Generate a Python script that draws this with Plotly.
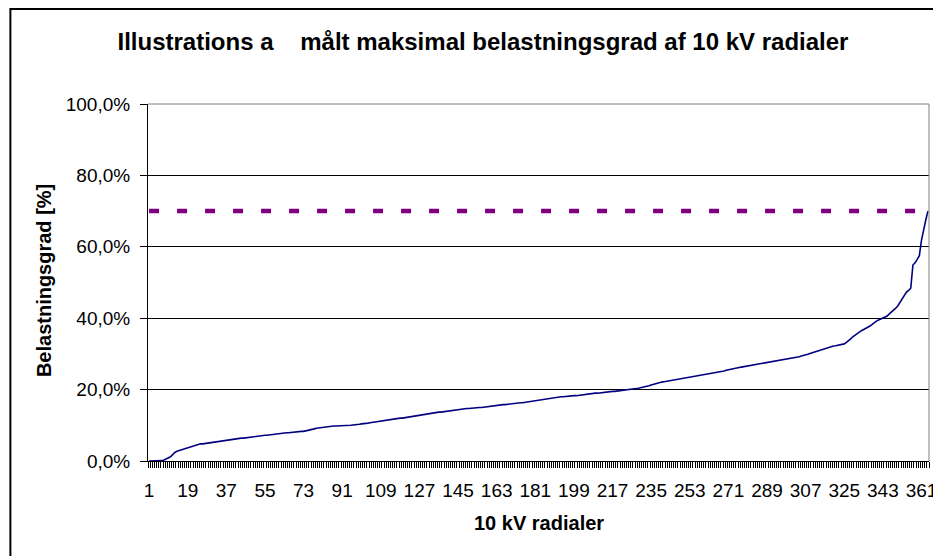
import plotly.graph_objects as go

# sorted maximum load per 10 kV radial, in percent
load_pct = [
    0.0, 0.0, 0.0, 0.0, 0.0, 0.0, 0.1,
    0.3, 0.6, 0.9, 1.2, 1.8, 2.4,
    2.7, 2.9, 3.1, 3.3, 3.5, 3.6,
    3.8, 4.0, 4.2, 4.5, 4.7,
    4.8, 4.8, 4.9, 4.9, 5.0, 5.1, 5.2, 5.3,
    5.3, 5.4, 5.5, 5.6, 5.8, 5.9, 6.0, 6.1, 6.2,
    6.3, 6.3, 6.4, 6.4, 6.5, 6.6, 6.6, 6.7,
    6.8, 6.9, 7.0, 7.0, 7.1, 7.2,
    7.2, 7.3, 7.4, 7.5, 7.5, 7.6, 7.7, 7.8,
    7.8, 7.9, 7.9, 8.0, 8.1,
    8.1, 8.2, 8.2, 8.3, 8.3, 8.4,
    8.5, 8.7, 8.8, 9.0, 9.2,
    9.3, 9.4, 9.5, 9.6, 9.7, 9.7, 9.8, 9.8,
    9.8, 9.8, 9.8, 9.9, 9.9, 9.9, 10.0, 10.0,
    10.1, 10.1, 10.2, 10.3, 10.4, 10.4, 10.5, 10.6,
    10.7, 10.8, 10.9, 11.0, 11.1, 11.2, 11.4, 11.5,
    11.6, 11.6, 11.7, 11.8, 11.8, 11.9, 12.0, 12.0, 12.1, 12.2, 12.3,
    12.4, 12.5, 12.6, 12.7, 12.8, 12.9, 13.0, 13.2, 13.4,
    13.4, 13.5, 13.5, 13.6, 13.7, 13.7, 13.8, 13.9, 14.0,
    14.1, 14.2, 14.3, 14.4, 14.5, 14.6,
    14.6, 14.7, 14.7, 14.7, 14.8, 14.8, 14.9, 14.9, 15.0, 15.0, 15.1, 15.1,
    15.2, 15.3, 15.4, 15.5, 15.5, 15.6, 15.7, 15.8, 15.8, 15.9,
    16.0, 16.0, 16.1, 16.1, 16.2, 16.3, 16.3, 16.4, 16.5,
    16.6, 16.7, 16.8, 16.8, 16.9, 17.0, 17.1, 17.2, 17.3, 17.4, 17.5, 17.6, 17.8, 17.9,
    17.9, 18.0, 18.0, 18.1, 18.1, 18.2, 18.2, 18.3,
    18.3, 18.4, 18.5, 18.5, 18.6, 18.7, 18.8, 18.8, 18.9, 19.0,
    19.0, 19.1, 19.1, 19.2, 19.3, 19.3, 19.4, 19.5, 19.5, 19.6, 19.7, 19.7, 19.8, 19.9,
    20.0, 20.0, 20.1, 20.2, 20.3, 20.4, 20.5, 20.6, 20.7,
    20.9, 21.1, 21.3, 21.5, 21.7, 21.8, 22.0, 22.1,
    22.2, 22.3, 22.4, 22.5, 22.6, 22.7, 22.9, 23.0,
    23.1, 23.2, 23.3, 23.4, 23.5, 23.6, 23.7, 23.8,
    23.9, 23.9, 24.0, 24.1, 24.2, 24.3, 24.4, 24.5, 24.6,
    24.8, 24.9, 25.1, 25.2, 25.4, 25.5, 25.7, 25.8, 26.0,
    26.1, 26.2, 26.3, 26.4, 26.5, 26.6, 26.7, 26.9, 27.0,
    27.1, 27.2, 27.3, 27.4, 27.5, 27.6, 27.7, 27.8, 27.9, 28.0, 28.1, 28.2, 28.4, 28.5,
    28.6, 28.7, 28.8, 28.9, 29.0, 29.1, 29.2, 29.4, 29.5,
    29.7, 29.9, 30.1, 30.3, 30.5, 30.8, 31.0, 31.2,
    31.4, 31.5, 31.7, 31.8, 32.0, 32.2,
    32.3, 32.4, 32.5, 32.7, 32.8,
    33.2, 33.6, 34.2, 34.8, 35.3, 35.8, 36.1, 36.5,
    36.8, 37.2, 37.6, 37.8, 38.3, 38.8, 39.2,
    39.5, 39.8, 40.0, 40.3, 40.6, 41.2, 41.7,
    42.2, 42.8, 43.5, 44.5, 45.5, 46.4, 47.3,
    47.8, 48.4, 54.9, 55.5,
    56.5, 57.5, 61.9, 65.0, 67.5, 70.0,
]
radials = list(range(1, len(load_pct) + 1))
limit_pct = 70.0

x_tickvals = list(range(1, len(load_pct) + 1, 18))
y_tickvals = [0, 20, 40, 60, 80, 100]
y_ticktext = ["0,0%", "20,0%", "40,0%", "60,0%", "80,0%", "100,0%"]

FONT = "Arial, Liberation Sans, sans-serif"

# the page body adds an 8px margin, so the figure is 8px smaller than the window
W, H = 933, 548

fig = go.Figure()

fig.add_trace(go.Scatter(x=radials, y=load_pct, mode='lines',
                         line=dict(color='#000080', width=1.6), showlegend=False))

fig.add_trace(go.Scatter(x=radials, y=[limit_pct] * len(radials), mode='lines',
                         line=dict(color='#800080', width=4.5, dash='10px,18px'),
                         showlegend=False))

fig.update_layout(
    width=W, height=H,
    margin=dict(l=140, r=4, t=96, b=95),
    paper_bgcolor='white', plot_bgcolor='white',
    font=dict(family=FONT, color='black'),
    title=dict(text="<b>Illustrations a\u00a0\u00a0\u00a0 målt maksimal belastningsgrad af 10 kV radialer</b>",
               x=475 / W, xref='container', xanchor='center',
               y=1 - 34 / H, yref='container', yanchor='middle',
               font=dict(size=24, family=FONT, color='black')),
    xaxis=dict(range=[0.5, len(load_pct) + 0.5], tickmode='array', tickvals=x_tickvals,
               ticks='', ticklabelstandoff=12, ticklabeloverflow='allow', tickfont=dict(size=19),
               showline=True, linecolor='black', linewidth=1, showgrid=False, zeroline=False,
               minor=dict(tick0=0.5, dtick=1, ticks='outside', ticklen=6,
                          tickcolor='black', tickwidth=1, showgrid=False)),
    yaxis=dict(range=[0, 100], tickmode='array', tickvals=y_tickvals, ticktext=y_ticktext,
               ticks='outside', ticklen=7, tickcolor='black', ticklabelstandoff=6,
               tickfont=dict(size=19),
               showline=True, linecolor='black', linewidth=1,
               showgrid=True, gridcolor='black', gridwidth=1, zeroline=False),
    annotations=[
        dict(text="<b>Belastningsgrad [%]</b>", x=-0.1331, y=0.504, xref='paper', yref='paper',
             xanchor='center', yanchor='middle',
             textangle=-90, showarrow=False, font=dict(size=20, family=FONT)),
        dict(text="<b>10 kV radialer</b>", x=0.5, y=-0.1737, xref='paper', yref='paper',
             xanchor='center', yanchor='middle', showarrow=False, font=dict(size=20, family=FONT)),
    ],
    shapes=[
        # plot area border (top and right)
        dict(type='line', xref='paper', yref='paper', x0=0, x1=1, y0=1, y1=1,
             line=dict(color='#808080', width=1), layer='above'),
        dict(type='line', xref='paper', yref='paper', x0=1, x1=1, y0=0, y1=1,
             line=dict(color='#808080', width=1), layer='above'),
        # outer chart frame
        dict(type='rect', xref='paper', yref='paper', x0=-0.1762, x1=1.03, y0=-0.3, y1=1.2661,
             line=dict(color='black', width=2)),
    ],
)

fig.write_html("out.html")
